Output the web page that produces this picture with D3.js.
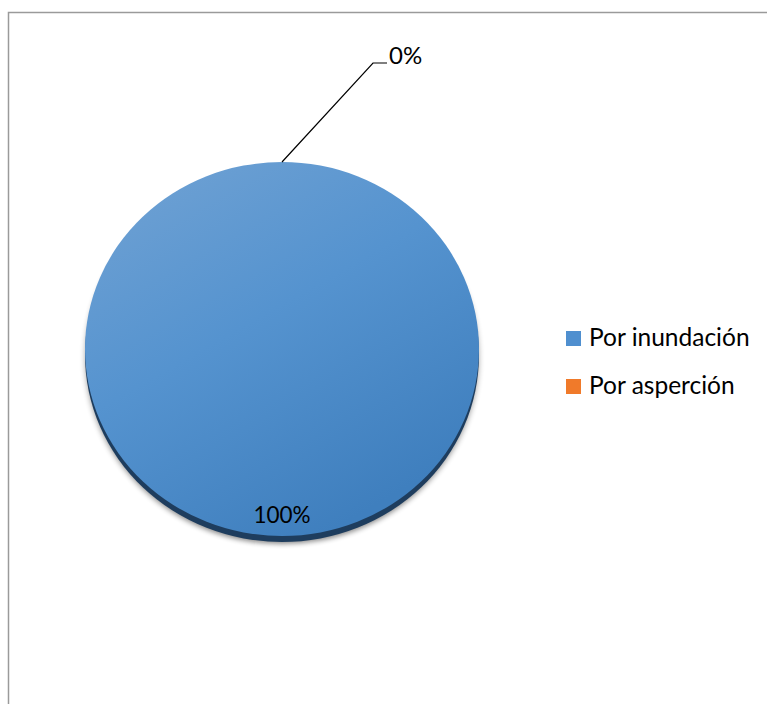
<!DOCTYPE html>
<html>
<head>
<meta charset="utf-8">
<script src="https://cdn.jsdelivr.net/npm/d3@7"></script>
<style>
  body { margin: 0; background: #fff; }
  svg text { font-family: Lato, "Open Sans", sans-serif; fill: #000; }
</style>
</head>
<body>
<div id="chart-area"></div>
<script>
// Datos del gráfico
var categorias = ["Por inundación", "Por asperción"];
var valores = [100, 0];
var colores = ["#4f8fcf", "#f07a2a"];

var width = 767, height = 704;

var svg = d3.select("#chart-area").append("svg")
    .attr("width", width)
    .attr("height", height);

// Marco del área del gráfico
svg.append("rect")
    .attr("x", 8.5).attr("y", 12.5)
    .attr("width", 800).attr("height", 800)
    .attr("fill", "none")
    .attr("stroke", "#9a9a9a")
    .attr("stroke-width", 1.5);

var defs = svg.append("defs");

var grad = defs.append("linearGradient")
    .attr("id", "azul")
    .attr("x1", "0%").attr("y1", "0%")
    .attr("x2", "60%").attr("y2", "100%");
grad.append("stop").attr("offset", "0%").attr("stop-color", "#72a3d4");
grad.append("stop").attr("offset", "50%").attr("stop-color", "#5593cf");
grad.append("stop").attr("offset", "100%").attr("stop-color", "#3f7fbe");

var blur = defs.append("filter").attr("id", "sombra")
    .attr("x", "-10%").attr("y", "-10%").attr("width", "120%").attr("height", "120%");
blur.append("feGaussianBlur").attr("stdDeviation", 3);

// Geometría de la torta (elipse)
var cx = 282, cy = 349, rx = 197, ry = 187;

var pie = d3.pie().sort(null).value(function(d) { return d; });
var arcs = pie(valores);

var arc = d3.arc().innerRadius(0).outerRadius(rx);
var labelArc = d3.arc().innerRadius(rx * 0.9).outerRadius(rx * 0.9);

function elipse(dy) {
    return "translate(" + cx + "," + (cy + dy) + ") scale(1," + (ry / rx) + ")";
}

// Sombra
svg.append("path")
    .attr("transform", elipse(9))
    .attr("d", d3.arc().innerRadius(0).outerRadius(rx - 1).startAngle(0).endAngle(2 * Math.PI)())
    .attr("fill", "#000")
    .attr("opacity", 0.45)
    .attr("filter", "url(#sombra)");

// Borde (profundidad)
svg.append("path")
    .attr("transform", elipse(6))
    .attr("d", d3.arc().innerRadius(0).outerRadius(rx).startAngle(0).endAngle(2 * Math.PI)())
    .attr("fill", "#1e3d5e");

// Porciones
var g = svg.append("g").attr("transform", elipse(0));
g.selectAll("path.slice")
    .data(arcs)
    .enter().append("path")
    .attr("class", "slice")
    .attr("d", arc)
    .attr("fill", function(d, i) { return i === 0 ? "url(#azul)" : colores[i]; });

// Etiquetas de porcentaje
var total = d3.sum(valores);
arcs.forEach(function(d, i) {
    var pct = Math.round(d.value / total * 100) + "%";
    if (d.value > 0) {
        var c = labelArc.centroid(d);
        svg.append("text")
            .attr("x", cx + c[0])
            .attr("y", cy + c[1] * ry / rx)
            .attr("text-anchor", "middle")
            .attr("dominant-baseline", "middle")
            .style("font-size", "22.5px")
            .text(pct);
    } else {
        // porción vacía: línea guía desde el borde superior
        var a = d.startAngle;
        var x0 = cx + Math.sin(a) * rx, y0 = cy - Math.cos(a) * ry;
        var x1 = x0 + 91, y1 = 63;
        svg.append("polyline")
            .attr("points", [[x0, y0], [x1, y1], [x1 + 14, y1]].join(" "))
            .attr("fill", "none")
            .attr("stroke", "#000")
            .attr("stroke-width", 1.2);
        svg.append("text")
            .attr("x", x1 + 16)
            .attr("y", y1 - 5)
            .attr("dominant-baseline", "middle")
            .style("font-size", "24px")
            .text(pct);
    }
});

// Leyenda
var legend = svg.append("g").attr("transform", "translate(566,331)");
var items = legend.selectAll("g")
    .data(categorias)
    .enter().append("g")
    .attr("transform", function(d, i) { return "translate(0," + (i * 48) + ")"; });
items.append("rect")
    .attr("width", 15).attr("height", 15)
    .attr("fill", function(d, i) { return colores[i]; });
items.append("text")
    .attr("x", 23).attr("y", 9)
    .attr("dominant-baseline", "middle")
    .style("font-size", "24.5px")
    .text(function(d) { return d; });
</script>
</body>
</html>
